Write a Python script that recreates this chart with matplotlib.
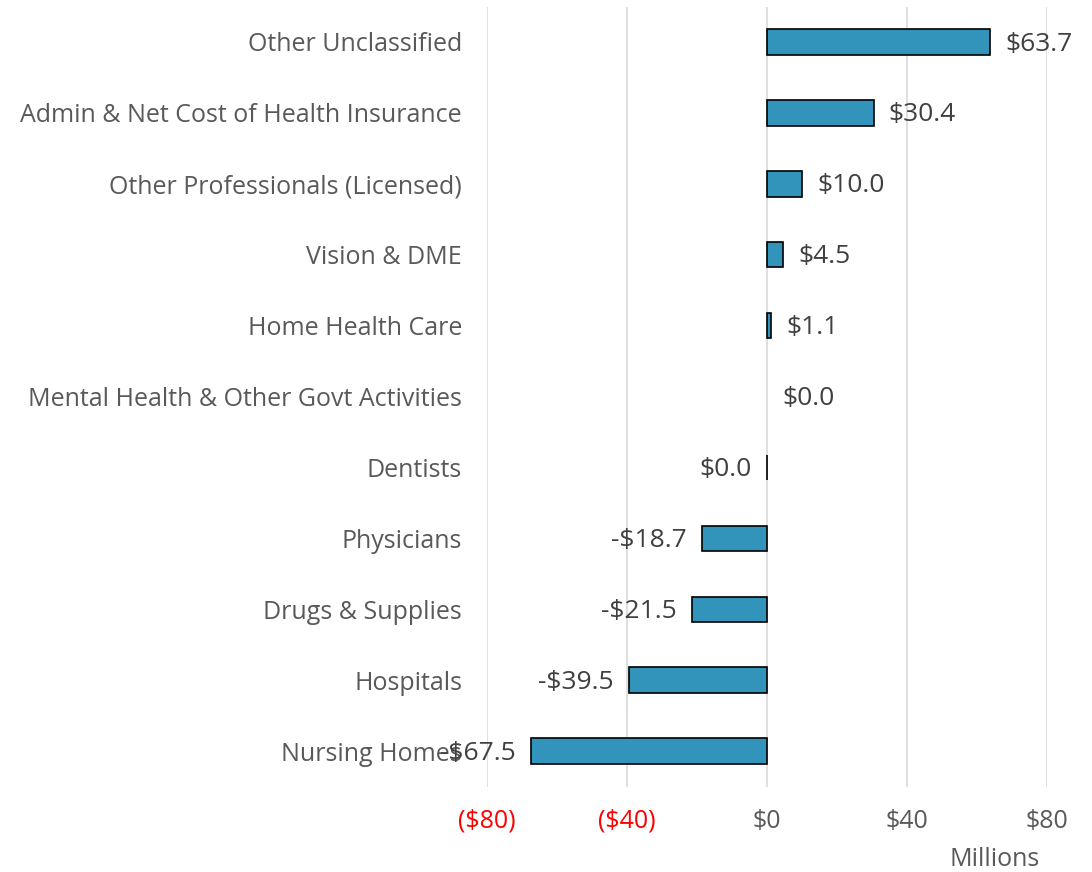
import matplotlib
matplotlib.use("Agg")
import matplotlib.pyplot as plt
from matplotlib.ticker import FuncFormatter

categories = ["Other Unclassified", "Admin & Net Cost of Health Insurance",
              "Other Professionals (Licensed)", "Vision & DME", "Home Health Care",
              "Mental Health & Other Govt Activities", "Dentists", "Physicians",
              "Drugs & Supplies", "Hospitals", "Nursing Homes"]
values = [63.7, 30.4, 10.0, 4.5, 1.1, 0.0, -0.04, -18.7, -21.5, -39.5, -67.5]
xticks = [-80, -40, 0, 40, 80]

plt.rcParams['font.family'] = ['Open Sans', 'DejaVu Sans']

fig = plt.figure(figsize=(10.92, 8.72), dpi=100)
ax = fig.add_axes([0.446, 0.098, 0.513, 0.8945])

n = len(categories)
ypos = list(range(n - 1, -1, -1))
lw = [0 if v == 0 else 1.2 for v in values]
ax.barh(ypos, values, height=0.36, color="#3294BB", edgecolor="black", linewidth=lw, zorder=3)
ax.set_ylim(-0.5, n - 0.5)
ax.set_xlim(-80, 80)
ax.set_xticks(xticks)
ax.xaxis.set_major_formatter(FuncFormatter(lambda v, p: f"(${abs(v):.0f})" if v < 0 else f"${v:.0f}"))
ax.grid(axis="x", color="#D9D9D9", linewidth=1.2, zorder=0)
ax.set_axisbelow(True)
for s in ax.spines.values():
    s.set_visible(False)
ax.tick_params(axis="both", length=0, labelsize=18, labelcolor="#595959")
ax.tick_params(axis="x", pad=16)
ax.tick_params(axis="y", pad=18)
ax.set_yticks(ypos)
ax.set_yticklabels(categories, ha="right")
for lbl, v in zip(ax.get_xticklabels(), xticks):
    if v < 0:
        lbl.set_color("red")

def fmt(v):
    r = round(v, 1)
    if r == 0:
        return "$0.0"
    return f"-${abs(r):.1f}" if r < 0 else f"${r:.1f}"

for y, v in zip(ypos, values):
    if v < 0:
        ax.annotate(fmt(v), (v, y), xytext=(-11, -1.5), textcoords="offset points",
                    ha="right", va="center", fontsize=19, color="#404040")
    else:
        ax.annotate(fmt(v), (v, y), xytext=(11, -1.5), textcoords="offset points",
                    ha="left", va="center", fontsize=19, color="#404040")

fig.text(0.911, 0.0, "Millions", fontsize=18, color="#595959", ha="center", va="bottom")

fig.savefig("out.png", dpi=100)
